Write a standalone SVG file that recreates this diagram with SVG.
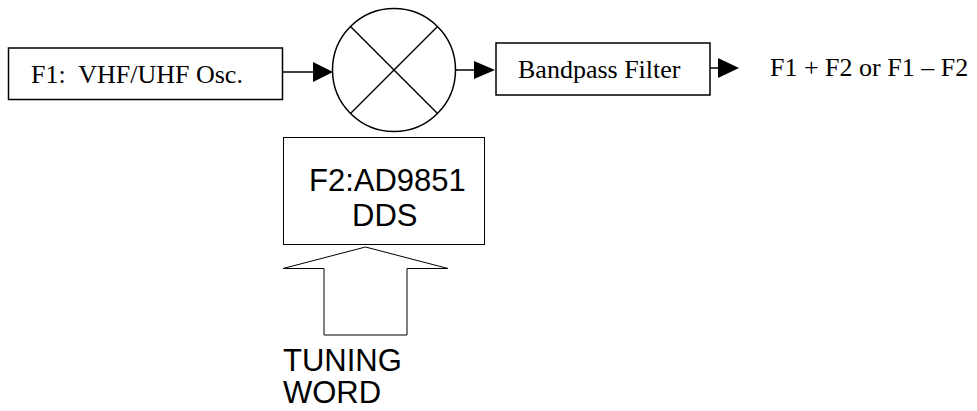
<svg xmlns="http://www.w3.org/2000/svg" width="977" height="411" viewBox="0 0 977 411">
<defs>
<style>
.box{fill:#fff;stroke:#000;stroke-width:1.5}
.thin{fill:#fff;stroke:#000;stroke-width:1}
.ser{font-family:"Liberation Serif","Times New Roman",serif;font-size:26px;fill:#000}
.san{font-family:"Liberation Sans",Arial,sans-serif;font-size:31px;fill:#000}
.ln{stroke:#000;stroke-width:1.5;fill:none}
.head{fill:#000;stroke:none}
</style>
</defs>
<rect width="977" height="411" fill="#fff"/>
<g id="osc">
<rect class="box" x="8.5" y="48" width="274" height="51.5"/>
<text class="ser" x="31" y="83" xml:space="preserve">F1:  VHF/UHF Osc.</text>
</g>
<g id="mixer">
<circle class="box" cx="394" cy="70" r="61.5"/>
<line class="ln" x1="350.5" y1="26.5" x2="437.5" y2="113.5"/>
<line class="ln" x1="437.5" y1="26.5" x2="350.5" y2="113.5"/>
</g>
<g id="bpf">
<rect class="box" x="496" y="43" width="214" height="52"/>
<text class="ser" x="518" y="78">Bandpass Filter</text>
</g>
<g id="dds">
<rect class="thin" x="283.5" y="137.5" width="201" height="107"/>
<text class="san" x="309" y="191">F2:AD9851</text>
<text class="san" x="352" y="226">DDS</text>
</g>
<g id="output">
<text class="ser" x="770" y="76">F1 + F2 or F1 – F2</text>
</g>
<g id="tuning">
<polygon class="thin" points="365.5,247 448,268.5 407,268.5 407,335 324,335 324,268.5 283,268.5"/>
<text class="san" x="283" y="371">TUNING</text>
<text class="san" x="283" y="403">WORD</text>
</g>
<g id="connectors">
<line class="ln" x1="282" y1="72" x2="316" y2="72"/>
<polygon class="head" points="313,62 333,72 313,82"/>
<line class="ln" x1="455" y1="70" x2="476" y2="70"/>
<polygon class="head" points="474,61 495,70 474,79"/>
<line class="ln" x1="710" y1="68" x2="720" y2="68"/>
<polygon class="head" points="718,58 739,68 718,78"/>
</g>
</svg>
